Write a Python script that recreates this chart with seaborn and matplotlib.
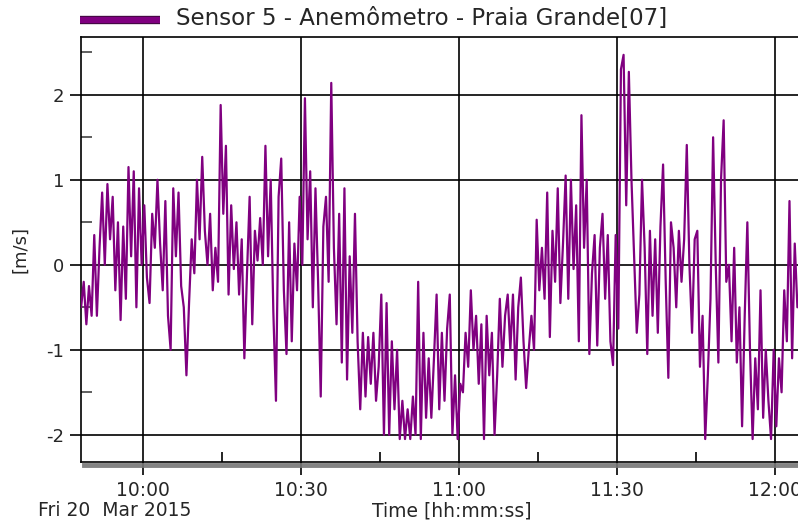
import numpy as np
import pandas as pd
import seaborn as sns
import matplotlib.pyplot as plt
import matplotlib.dates as mdates
import matplotlib.patheffects as pe
from matplotlib.lines import Line2D

sns.set_theme(style='white')
plt.rcParams['font.family'] = ['DejaVu Sans']

# wind speed samples, one every 30 s starting 09:48:15
start_time = '2015-03-20 09:48:15'
step_seconds = 30
speed = [
    -0.5, -0.2, -0.7, -0.25, -0.6, 0.35, -0.6, 0.2, 0.85, 0.0,
    0.95, 0.3, 0.8, -0.3, 0.5, -0.65, 0.45, -0.4, 1.15,
    0.1, 1.1, -0.5, 0.9, 0.0, 0.7, -0.15, -0.45, 0.6, 0.2,
    1.0, 0.25, -0.3, 0.75, -0.6, -1.0, 0.9, 0.1, 0.85,
    -0.25, -0.5, -1.3, -0.45, 0.3, -0.1, 1.0, 0.3, 1.27, 0.4,
    0.0, 0.6, -0.3, 0.2, -0.2, 1.88, 0.6, 1.4, -0.35,
    0.7, -0.05, 0.5, -0.35, 0.3, -1.1, -0.1, 0.8, -0.7, 0.4,
    0.05, 0.55, 0.0, 1.4, 0.1, 1.0, -0.55, -1.6, 0.8,
    1.25, -0.3, -1.05, 0.5, -0.9, 0.25, -0.3, 0.8, 0.0, 1.96,
    0.3, 1.1, -0.5, 0.9, -0.2, -1.55, 0.45, 0.8, -0.2,
    2.14, 0.2, -0.7, 0.6, -1.15, 0.9, -1.35, 0.1, -0.8, 0.6,
    -0.9, -1.7, -0.8, -1.55, -0.85, -1.4, -0.8, -1.6, -1.2,
    -0.35, -2.0, -0.45, -2.0, -0.9, -1.7, -1.0, -2.05, -1.6, -2.05,
    -1.7, -2.05, -1.55, -2.0, -0.2, -2.05, -0.8, -1.8, -1.1,
    -1.8, -1.1, -0.35, -1.7, -0.8, -1.6, -0.75, -0.35, -2.0, -1.3,
    -2.05, -1.4, -1.5, -0.8, -1.2, -0.3, -1.0, -0.6, -1.4,
    -0.7, -2.05, -0.6, -1.3, -0.8, -2.0, -1.3, -0.4, -1.2, -0.6,
    -0.35, -1.0, -0.35, -1.35, -0.5, -0.15, -0.9, -1.45, -1.0,
    -0.6, -1.0, 0.53, -0.3, 0.2, -0.4, 0.85, -0.85, 0.4, -0.2,
    0.9, -0.45, 0.25, 1.05, -0.4, 1.0, -0.05, 0.7, -0.9,
    1.76, 0.2, 1.0, -1.05, -0.1, 0.35, -0.95, 0.2, 0.6, -0.4,
    0.35, -0.9, -1.18, 0.35, -0.75, 2.3, 2.47, 0.7, 2.27,
    1.0, 0.1, -0.8, -0.35, 1.0, 0.2, -1.05, 0.4, -0.6, 0.3,
    -0.8, 0.45, 1.18, -0.2, -1.33, 0.5, 0.2, -0.5, 0.4,
    -0.2, 0.3, 1.41, 0.0, -0.8, 0.3, 0.4, -1.2, -0.6, -2.05,
    -1.3, -0.4, 1.5, 0.0, -1.15, 1.0, 1.7, -0.2, 0.0,
    -0.9, 0.2, -1.15, -0.5, -1.9, -0.6, 0.5, -1.0, -2.05, -1.1,
    -1.7, -0.3, -1.8, -1.0, -1.6, -2.05, -1.0, -1.9, -1.1,
    -1.5, -0.3, -0.9, 0.75, -1.1, 0.25, -0.5,
]
series_name = 'Sensor 5 - Anemômetro - Praia Grande[07]'
line_color = '#800080'

df = pd.DataFrame({
    'time': pd.date_range(start_time, periods=len(speed), freq=f'{step_seconds}s'),
    'speed': speed,
})

fig = plt.figure(figsize=(7.98, 5.24), dpi=100)
ax = fig.add_axes([81 / 798, 62 / 524, 717 / 798, 425 / 524])

sns.lineplot(data=df, x='time', y='speed', color=line_color, lw=1.6, ax=ax, zorder=3)

ax.set_xlim(pd.Timestamp('2015-03-20 09:48:14'), pd.Timestamp('2015-03-20 12:04:22'))
ax.set_ylim(-2.32, 2.68)

ax.xaxis.set_major_locator(mdates.MinuteLocator(byminute=[0, 30]))
ax.xaxis.set_minor_locator(mdates.MinuteLocator(byminute=[15, 45]))
ax.xaxis.set_major_formatter(mdates.DateFormatter('%H:%M'))
ax.set_yticks([-2, -1, 0, 1, 2])
ax.set_yticks([-1.5, -0.5, 0.5, 1.5, 2.5], minor=True)
ax.set_yticklabels(['-2', '-1', '0', '1', '2'])

ax.grid(True, which='major', color='black', lw=1.2, zorder=1)
ax.tick_params(axis='x', which='major', direction='out', length=9, width=1.2,
               color='black', labelsize=13.5, pad=5, bottom=True)
ax.tick_params(axis='x', which='minor', direction='in', length=7, width=1.2,
               color='black', bottom=True)
ax.tick_params(axis='y', which='major', direction='out', length=8, width=1.2,
               color='black', labelsize=13, pad=4, left=True)
ax.tick_params(axis='y', which='minor', direction='in', length=8, width=1.2,
               color='#444444', left=True)

ax.spines['right'].set_visible(False)
for side in ['left', 'top', 'bottom']:
    ax.spines[side].set_color('black')
    ax.spines[side].set_linewidth(1.2)
ax.spines['bottom'].set_path_effects([
    pe.SimpleLineShadow(offset=(2, -2), shadow_color='#777777', alpha=0.9, linewidth=3.5),
    pe.Normal(),
])

ax.set_xlabel('')
ax.set_ylabel('[m/s]', fontsize=13, labelpad=12)
fig.text(38 / 798, 1 - 511 / 524, 'Fri 20  Mar 2015', fontsize=13.5, va='center', ha='left')
fig.text(452 / 798, 1 - 511 / 524, 'Time [hh:mm:ss]', fontsize=13.5, va='center', ha='center')

# legend swatch and label at the top
fig.add_artist(Line2D([80 / 798, 160 / 798], [1 - 19.5 / 524] * 2, transform=fig.transFigure,
                      color=line_color, lw=4.5, solid_capstyle='butt',
                      path_effects=[pe.Stroke(linewidth=6, foreground='#3d0a3d'), pe.Normal()]))
fig.text(176 / 798, 1 - 18 / 524, series_name, fontsize=16.5, va='center', ha='left')

fig.savefig('out.png', dpi=100)
